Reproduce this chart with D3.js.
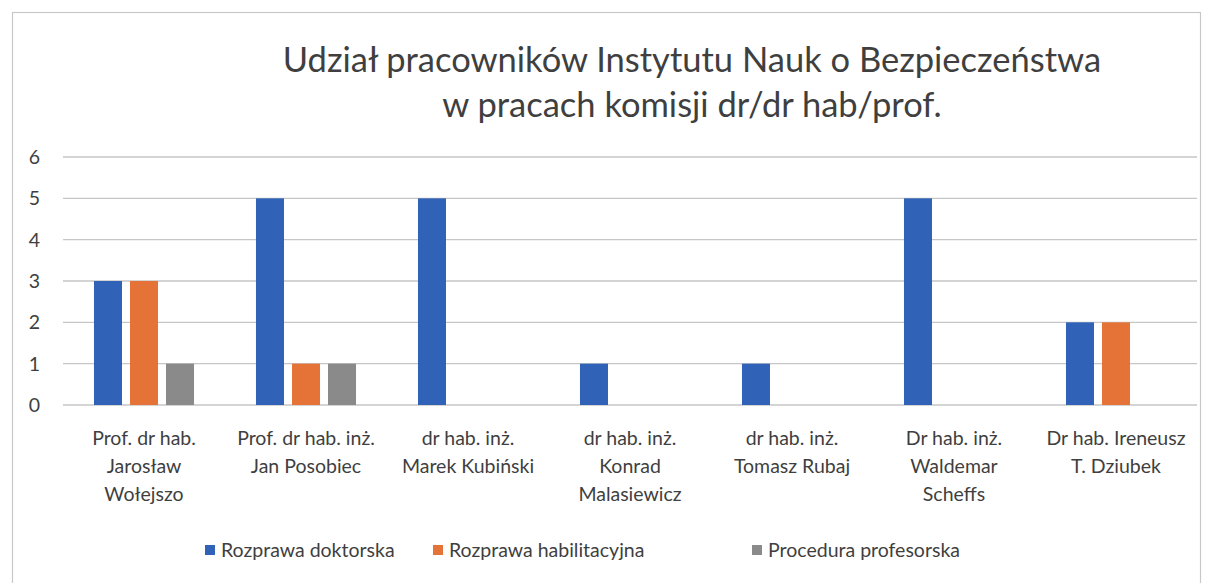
<!DOCTYPE html>
<html>
<head>
<meta charset="utf-8">
<script src="https://cdn.jsdelivr.net/npm/d3@7"></script>
<style>
  body { margin: 0; background: #fff; }
  text { font-family: Lato, "Liberation Sans", sans-serif; fill: #3f3f3f; }
</style>
</head>
<body>
<div class="chart"></div>
<script>
var categories = [
  "Prof. dr hab.\nJarosław\nWołejszo",
  "Prof. dr hab. inż.\nJan Posobiec",
  "dr hab. inż.\nMarek Kubiński",
  "dr hab. inż.\nKonrad\nMalasiewicz",
  "dr hab. inż.\nTomasz Rubaj",
  "Dr hab. inż.\nWaldemar\nScheffs",
  "Dr hab. Ireneusz\nT. Dziubek"
];
var seriesNames = ["Rozprawa doktorska", "Rozprawa habilitacyjna", "Procedura profesorska"];
var doktorska = [3, 5, 5, 1, 1, 5, 2];
var habilitacyjna = [3, 1, 0, 0, 0, 0, 2];
var profesorska = [1, 1, 0, 0, 0, 0, 0];
var yTicks = [0, 1, 2, 3, 4, 5, 6];
var titleLines = [
  "Udział pracowników Instytutu Nauk o Bezpieczeństwa",
  "w pracach komisji dr/dr hab/prof."
];

var colors = ["#3063b8", "#e57337", "#8a8a8a"];
var seriesValues = [doktorska, habilitacyjna, profesorska];

var width = 1212, height = 583;
var margin = { top: 157, right: 15, bottom: 178, left: 63 };

var svg = d3
  .select(".chart")
  .append("svg")
  .attr("width", width)
  .attr("height", height);

// chart frame
svg
  .append("rect")
  .attr("x", 12.5)
  .attr("y", 12.5)
  .attr("width", 1188)
  .attr("height", 600)
  .style("fill", "none")
  .style("stroke", "#c8c8c8")
  .style("stroke-width", 1.2);

svg
  .append("text")
  .attr("text-anchor", "middle")
  .style("font-size", "34.5px")
  .selectAll("tspan")
  .data(titleLines)
  .enter()
  .append("tspan")
  .attr("x", 692)
  .attr("y", function (d, i) {
    return 72 + i * 45;
  })
  .text(function (d) {
    return d;
  });

var x = d3
  .scaleBand()
  .domain(categories)
  .range([margin.left, width - margin.right]);

var xs = d3
  .scaleBand()
  .domain(seriesNames)
  .range([0, x.bandwidth()])
  .paddingInner(8 / 36)
  .paddingOuter(0.86);

var y = d3
  .scaleLinear()
  .domain([0, 6])
  .range([height - margin.bottom, margin.top]);

// gridlines
svg
  .append("g")
  .selectAll("line")
  .data(yTicks)
  .enter()
  .append("line")
  .attr("x1", margin.left)
  .attr("x2", width - margin.right)
  .attr("y1", function (d) {
    return y(d);
  })
  .attr("y2", function (d) {
    return y(d);
  })
  .style("stroke", "#c6c6c6")
  .style("stroke-width", 1.3);

// y axis labels
svg
  .append("g")
  .selectAll("text")
  .data(yTicks)
  .enter()
  .append("text")
  .attr("x", 40)
  .attr("y", function (d) {
    return y(d) + 7;
  })
  .attr("text-anchor", "end")
  .style("font-size", "19.5px")
  .text(function (d) {
    return d;
  });

// bars
var rows = [];
categories.forEach(function (c, i) {
  seriesNames.forEach(function (s, j) {
    rows.push({ cat: c, series: s, value: seriesValues[j][i], idx: j });
  });
});

svg
  .append("g")
  .selectAll("rect")
  .data(rows.filter(function (d) { return d.value > 0; }))
  .enter()
  .append("rect")
  .attr("x", function (d) {
    return x(d.cat) + xs(d.series);
  })
  .attr("y", function (d) {
    return y(d.value);
  })
  .attr("width", xs.bandwidth())
  .attr("height", function (d) {
    return y(0) - y(d.value);
  })
  .style("fill", function (d) {
    return colors[d.idx];
  });

// category labels
svg
  .append("g")
  .selectAll("text")
  .data(categories)
  .enter()
  .append("text")
  .attr("text-anchor", "middle")
  .style("font-size", "19.5px")
  .each(function (d) {
    var t = d3.select(this);
    d.split("\n").forEach(function (line, k) {
      t.append("tspan")
        .attr("x", x(d) + x.bandwidth() / 2)
        .attr("y", 445 + k * 28)
        .text(line);
    });
  });

// legend
var legendX = [205, 433, 752];
var legend = svg
  .append("g")
  .selectAll("g")
  .data(seriesNames)
  .enter()
  .append("g")
  .attr("transform", function (d, i) {
    return "translate(" + legendX[i] + ",550)";
  });

legend
  .append("rect")
  .attr("x", 0)
  .attr("y", -5)
  .attr("width", 10)
  .attr("height", 10)
  .style("fill", function (d, i) {
    return colors[i];
  });

legend
  .append("text")
  .attr("x", 16)
  .attr("y", 7)
  .style("font-size", "19.5px")
  .text(function (d) {
    return d;
  });
</script>
</body>
</html>
